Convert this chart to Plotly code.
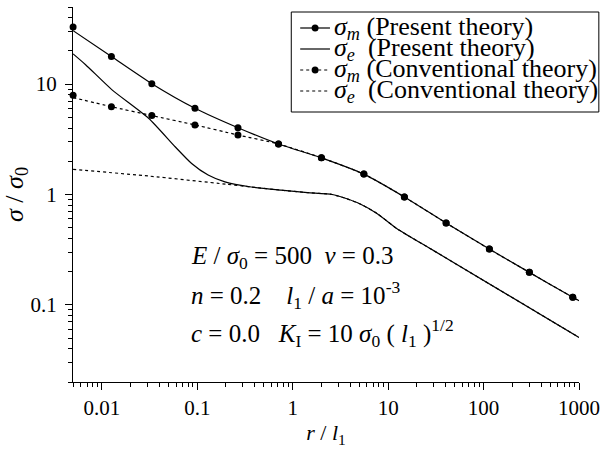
import plotly.graph_objects as go

# ---------------- data ----------------
x_dots = [0.005, 0.0126, 0.0334, 0.0946, 0.267, 0.71, 2.0, 5.57, 14.8, 40.5, 115, 302, 860]
sm_present_dots = [33.0, 17.8, 10.1, 6.05, 4.03, 2.87, 2.15, 1.53, 0.95, 0.552, 0.32, 0.197, 0.117]
sm_conv_dots = [7.95, 6.25, 5.19, 4.27, 3.46, 2.87, 2.15, 1.53, 0.95, 0.552, 0.32, 0.197, 0.117]

x_sm_line = [0.005, 0.0126, 0.0334, 0.0946, 0.267, 0.71, 2.0, 5.57, 14.8, 40.5, 115, 302, 860, 1000]
sm_present_line = [30.5, 17.8, 10.1, 6.05, 4.03, 2.87, 2.15, 1.53, 0.95, 0.552, 0.32, 0.197, 0.117, 0.109]
sm_conv_line = [7.55, 6.25, 5.19, 4.27, 3.46, 2.87, 2.15, 1.53, 0.95, 0.552, 0.32, 0.197, 0.117, 0.109]

x_se_present = [0.005, 0.00676, 0.0128, 0.0309, 0.0586, 0.0873, 0.130, 0.195, 0.368, 0.755,
                1.43, 2.6, 3.5, 5.1, 7.7, 12.4, 30, 1000]
se_present_line = [18.8, 15.0, 8.88, 4.91, 2.71, 1.91, 1.50, 1.30, 1.17, 1.094,
                   1.04, 1.0, 0.93, 0.82, 0.67, 0.49, 0.31, 0.0507]
x_se_conv = [0.005, 0.031, 0.2, 0.368, 0.755, 1.43, 2.6, 3.5, 5.1, 7.7, 12.4, 30, 1000]
se_conv_line = [1.69, 1.47, 1.24, 1.17, 1.094, 1.04, 1.0, 0.93, 0.82, 0.67, 0.49, 0.31, 0.0507]

x_tickvals = [0.01, 0.1, 1, 10, 100, 1000]
x_ticktext = ["0.01", "0.1", "1", "10", "100", "1000"]
y_tickvals = [0.1, 1, 10]
y_ticktext = ["0.1", "1", "10"]

legend_labels = [
    "<i>σ<sub>m</sub></i> (Present theory)",
    "<i>σ<sub>e</sub></i>\u00a0 (Present theory)",
    "<i>σ<sub>m</sub></i> (Conventional theory)",
    "<i>σ<sub>e</sub></i>\u00a0 (Conventional theory)",
]
legend_dash = ["solid", "solid", "dot", "dot"]
legend_marker = [True, False, True, False]

param_lines = [
    "<i>E</i> / <i>σ</i><sub>0</sub> = 500\u00a0\u00a0<i>ν</i> = 0.3",
    "<i>n</i> = 0.2\u00a0\u00a0\u00a0\u00a0<i>l</i><sub>1</sub> / <i>a</i> = 10<sup>-3</sup>",
    "<i>c</i> = 0.0\u00a0\u00a0\u00a0<i>K</i><sub>I</sub> = 10 <i>σ</i><sub>0</sub> ( <i>l</i><sub>1</sub> )<sup>1/2</sup>",
]

# ---------------- layout constants ----------------
W, H = 607, 450
L, R, T, B = 73, 24, 7, 68
PW, PH = W - L - R, H - T - B
FONT = "Liberation Serif"
LW = 1.2


def px(xp):
    return (xp - L) / PW


def py(yp):
    return (H - B - yp) / PH


fig = go.Figure()

line_style = dict(shape="spline", smoothing=0.6)
fig.add_trace(go.Scatter(x=x_sm_line, y=sm_present_line, mode="lines",
                         line=dict(color="black", width=LW, **line_style), showlegend=False))
fig.add_trace(go.Scatter(x=x_se_present, y=se_present_line, mode="lines",
                         line=dict(color="black", width=LW, **line_style), showlegend=False))
fig.add_trace(go.Scatter(x=x_sm_line, y=sm_conv_line, mode="lines",
                         line=dict(color="black", width=LW, dash="dot", **line_style), showlegend=False))
fig.add_trace(go.Scatter(x=x_se_conv, y=se_conv_line, mode="lines",
                         line=dict(color="black", width=LW, dash="dot", **line_style), showlegend=False))
fig.add_trace(go.Scatter(x=x_dots, y=sm_conv_dots, mode="markers", cliponaxis=False,
                         marker=dict(color="black", size=7), showlegend=False))
fig.add_trace(go.Scatter(x=x_dots, y=sm_present_dots, mode="markers", cliponaxis=False,
                         marker=dict(color="black", size=7), showlegend=False))

# ---------------- manual legend ----------------
shapes = []
annotations = []
box = dict(x0=293, x1=603, y0=12, y1=112)
shapes.append(dict(type="rect", xref="paper", yref="paper",
                   x0=px(box["x0"]), x1=px(box["x1"]), y0=py(box["y1"]), y1=py(box["y0"]),
                   line=dict(color="black", width=1), fillcolor="white", layer="above"))
row_y = [28, 49, 70, 91]
for i, lab in enumerate(legend_labels):
    yy = py(row_y[i])
    shapes.append(dict(type="line", xref="paper", yref="paper",
                       x0=px(302), x1=px(332), y0=yy, y1=yy,
                       line=dict(color="black", width=LW, dash=legend_dash[i]), layer="above"))
    if legend_marker[i]:
        r = 3.5
        shapes.append(dict(type="circle", xref="paper", yref="paper",
                           x0=px(317 - r), x1=px(317 + r), y0=yy - r / PH, y1=yy + r / PH,
                           fillcolor="black", line=dict(color="black", width=0), layer="above"))
    annotations.append(dict(xref="paper", yref="paper", x=px(334), y=yy, text=lab,
                            showarrow=False, xanchor="left", yanchor="middle",
                            font=dict(family=FONT, size=26, color="black")))

param_y = [257, 295, 333]
for i, t in enumerate(param_lines):
    annotations.append(dict(xref="paper", yref="paper", x=px(190), y=py(param_y[i]), text=t,
                            showarrow=False, xanchor="left", yanchor="middle",
                            font=dict(family=FONT, size=25, color="black")))

axis_common = dict(
    type="log", showgrid=False, zeroline=False, showline=True, linecolor="black", linewidth=1.3,
    ticks="outside", ticklen=7, tickwidth=1.2, tickcolor="black",
    tickfont=dict(family=FONT, size=21, color="black"),
    minor=dict(ticks="outside", ticklen=4, tickwidth=1, tickcolor="black", dtick="D1", showgrid=False),
    mirror=False,
)

fig.update_layout(
    width=W, height=H,
    margin=dict(l=L, r=R, t=T, b=B, pad=0),
    paper_bgcolor="white", plot_bgcolor="white",
    font=dict(family=FONT, color="black"),
    showlegend=False,
    xaxis=dict(range=[-2.302, 3], tickvals=x_tickvals, ticktext=x_ticktext,
               title=dict(text="<i>r</i> / <i>l</i><sub>1</sub>", font=dict(family=FONT, size=22), standoff=5),
               **axis_common),
    yaxis=dict(range=[-1.699, 1.699], tickvals=y_tickvals, ticktext=y_ticktext, ticklabelstandoff=4,
               title=dict(text="<i>σ</i> / <i>σ</i><sub>0</sub>", font=dict(family=FONT, size=26), standoff=3),
               **axis_common),
    shapes=shapes,
    annotations=annotations,
)

fig.write_html("out.html")
